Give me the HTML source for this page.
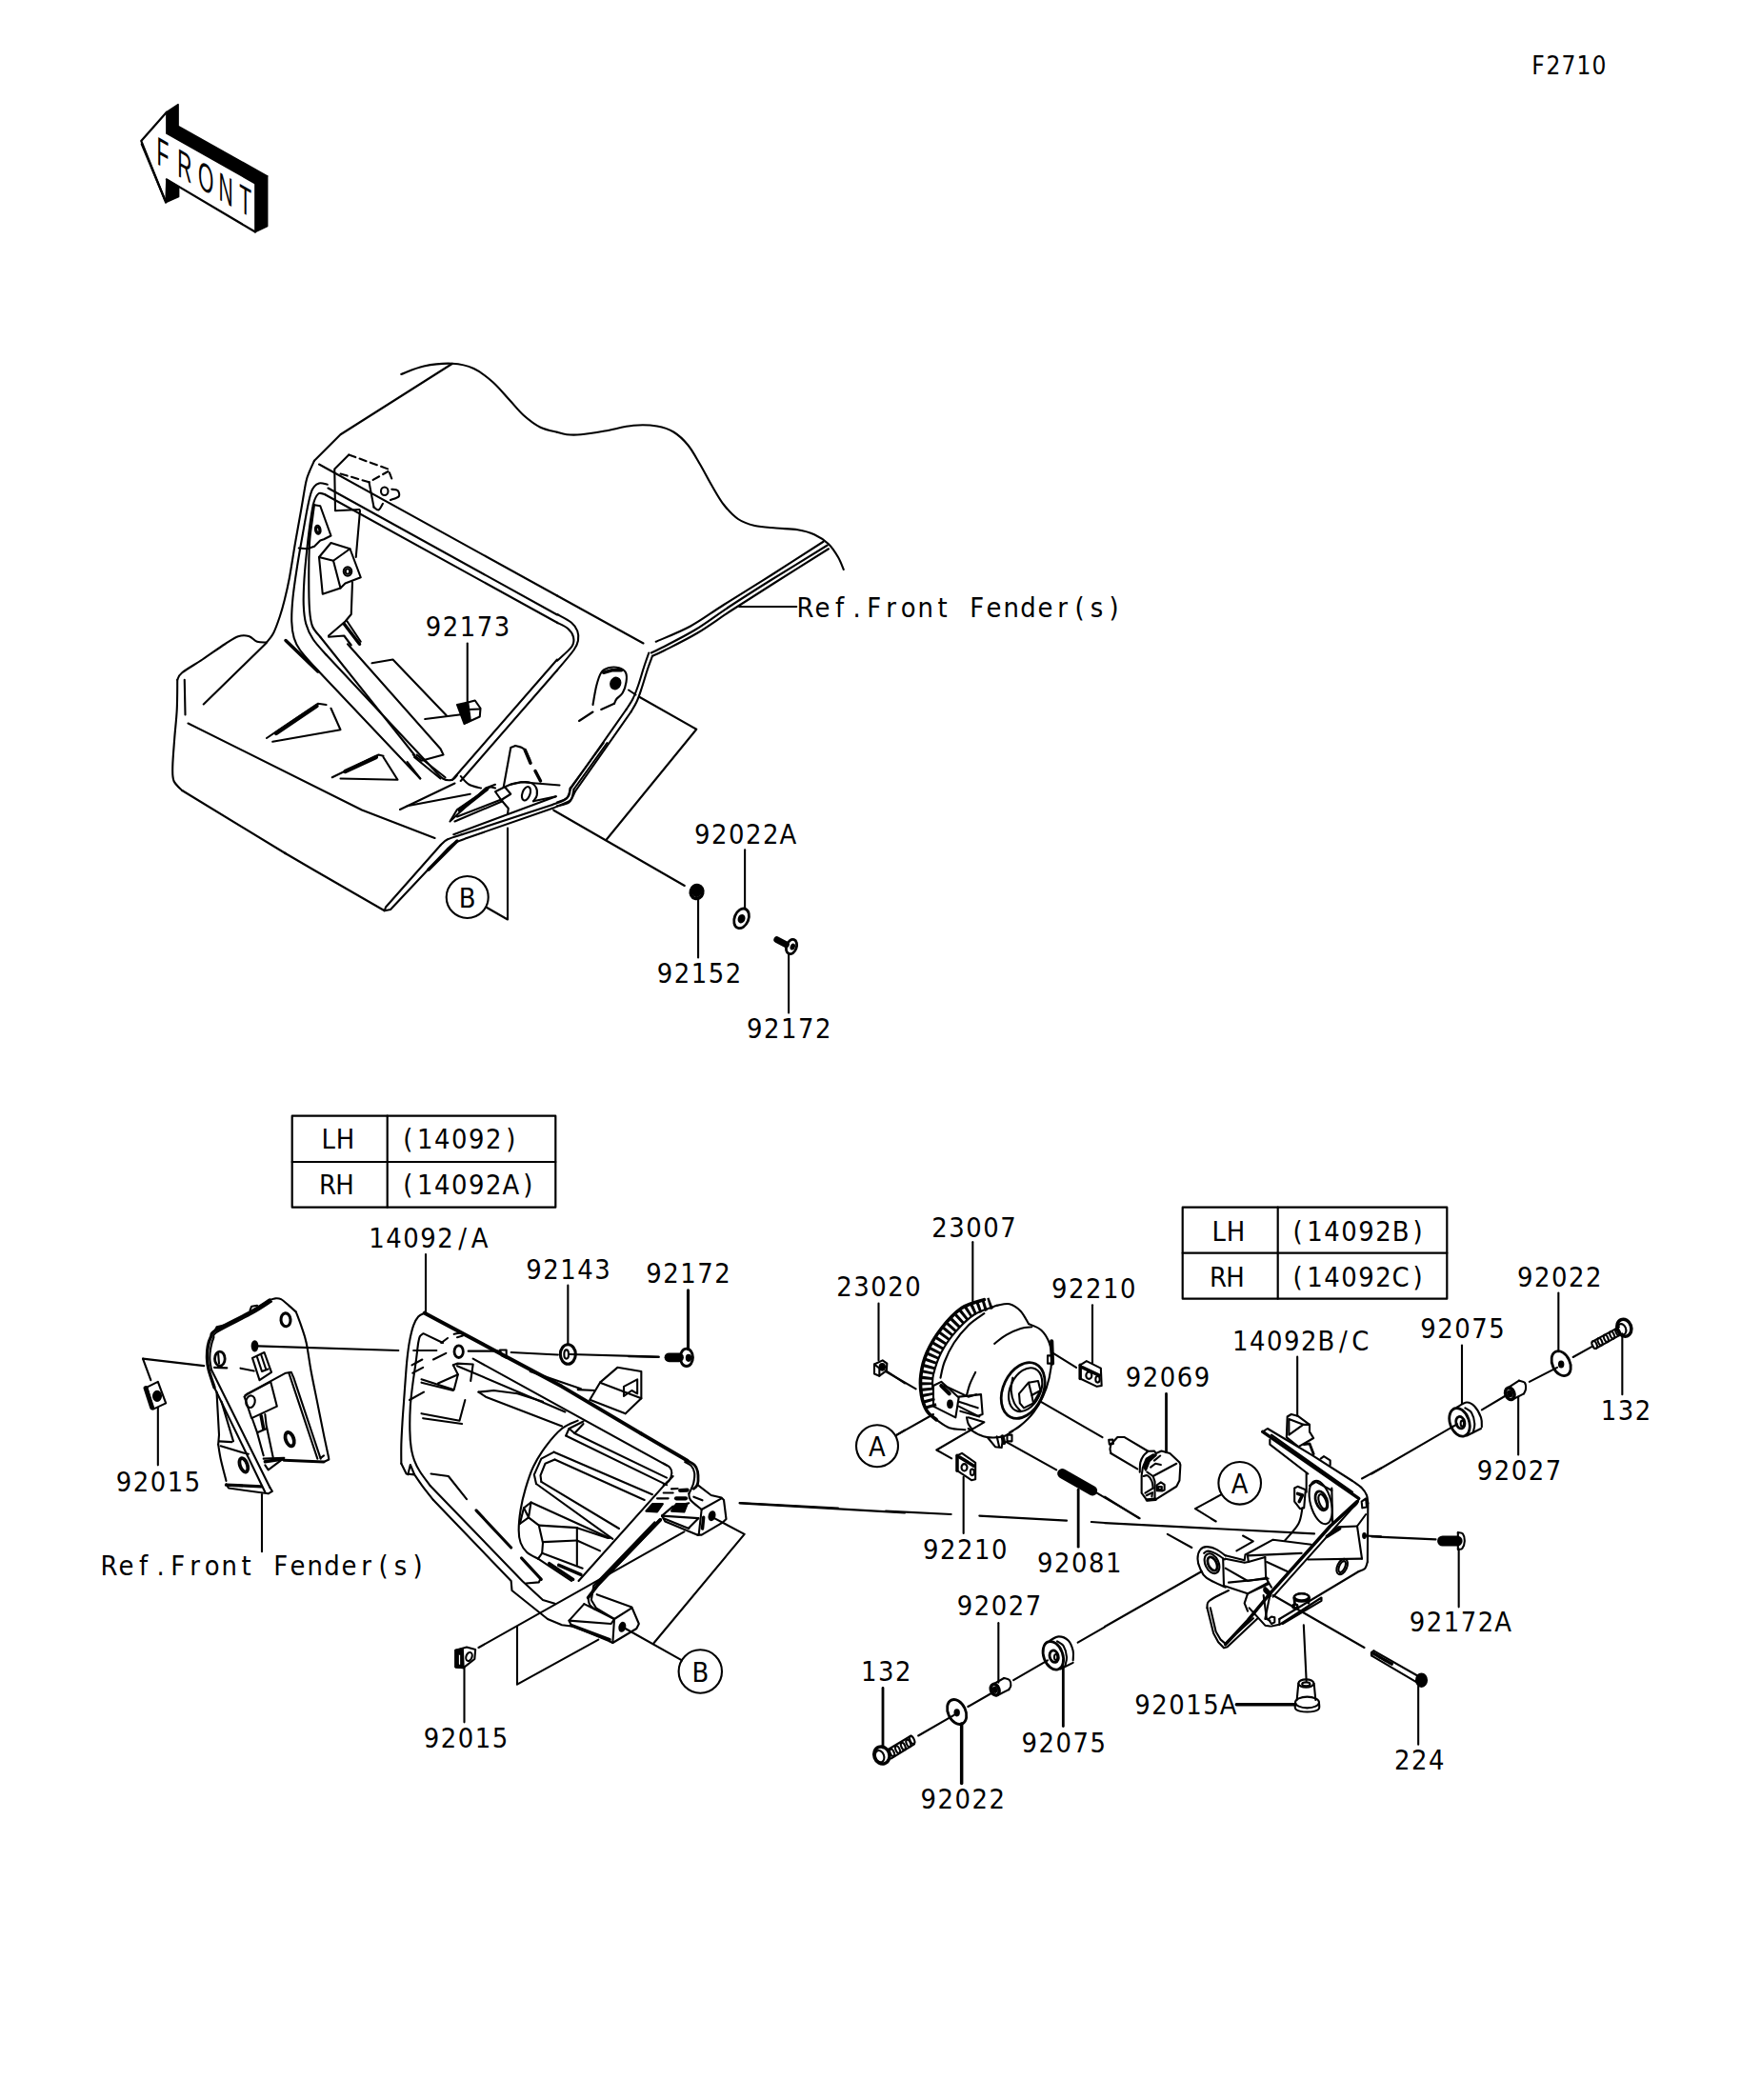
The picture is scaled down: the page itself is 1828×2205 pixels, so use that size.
<!DOCTYPE html>
<html><head><meta charset="utf-8"><title>F2710</title>
<style>
html,body{margin:0;padding:0;background:#fff}
svg{display:block}
.t{font-family:"DejaVu Sans Condensed","Liberation Sans",sans-serif;fill:#000;text-anchor:middle}
.g polyline,.g path,.g ellipse,.g polygon,.g line,.g rect,.g circle{fill:none;stroke:#000;stroke-linecap:round;stroke-linejoin:round}
.g .f{fill:#000}
.g .w{fill:#fff}
</style></head><body>
<svg width="1828" height="2205" viewBox="0 0 1828 2205">
<rect width="1828" height="2205" fill="#fff"/>
<g class="g">
<g transform="translate(100,60) scale(0.172325)"><polygon class="f" points="435,335 505,288 505,420 1048,725 975,770 435,465" stroke-width="9.75"/><polygon class="f" points="975,770 1048,725 1048,1030 975,1065" stroke-width="9.75"/><polygon class="f" points="435,745 508,790 508,850 430,885" stroke-width="9.75"/><polyline points="435,335 280,510 430,885" stroke-width="13.00"/><polyline points="283,530 425,870" stroke-width="13.00"/><polyline points="435,745 975,1065" stroke-width="13.00"/></g>
<g transform="translate(150,370) scale(0.250000)"><path d="M1085.0 92.0 C1100.8 86.3 1144.2 65.5 1180.0 58.0 C1215.8 50.5 1265.0 45.3 1300.0 47.0 C1335.0 48.7 1361.7 55.0 1390.0 68.0 C1418.3 81.0 1445.0 103.0 1470.0 125.0 C1495.0 147.0 1518.3 176.7 1540.0 200.0 C1561.7 223.3 1578.3 245.8 1600.0 265.0 C1621.7 284.2 1646.7 303.3 1670.0 315.0 C1693.3 326.7 1728.3 331.7 1740.0 335.0" stroke-width="8.40"/><polyline points="1300,47 830,345 720,455" stroke-width="8.40"/><path d="M720.0 455.0 C716.7 462.5 705.8 485.0 700.0 500.0 C694.2 515.0 690.8 518.3 685.0 545.0 C679.2 571.7 672.5 617.5 665.0 660.0 C657.5 702.5 648.3 751.7 640.0 800.0 C631.7 848.3 622.5 910.0 615.0 950.0 C607.5 990.0 601.7 1013.3 595.0 1040.0 C588.3 1066.7 582.8 1086.7 575.0 1110.0 C567.2 1133.3 557.2 1162.0 548.0 1180.0 C538.8 1198.0 524.7 1211.7 520.0 1218.0" stroke-width="8.40"/><path d="M520.0 1218.0 C513.3 1217.5 492.5 1219.3 480.0 1215.0 C467.5 1210.7 458.3 1195.7 445.0 1192.0 C431.7 1188.3 416.7 1187.5 400.0 1193.0 C383.3 1198.5 370.0 1208.8 345.0 1225.0 C320.0 1241.2 280.0 1270.0 250.0 1290.0 C220.0 1310.0 182.5 1330.8 165.0 1345.0 C147.5 1359.2 148.3 1370.0 145.0 1375.0" stroke-width="8.40"/><path d="M145.0 1375.0 C144.7 1395.8 145.0 1459.2 143.0 1500.0 C141.0 1540.8 136.0 1580.0 133.0 1620.0 C130.0 1660.0 125.5 1710.0 125.0 1740.0 C124.5 1770.0 123.3 1783.3 130.0 1800.0 C136.7 1816.7 159.2 1833.3 165.0 1840.0" stroke-width="8.40"/><polyline points="165,1840 600,2105" stroke-width="8.40"/><polyline points="175,1375 178,1522" stroke-width="8.40"/><polyline points="255,1478 517,1222" stroke-width="8.40"/><polyline points="190,1558 920,1922 1226,2040" stroke-width="8.40"/><polyline points="740,470 1740,1022" stroke-width="8.40"/><polyline points="778,570 1740,1102" stroke-width="8.40"/><polyline points="765,597 1740,1135" stroke-width="8.40"/><path d="M775.0 555.0 C769.2 554.2 750.5 546.7 740.0 550.0 C729.5 553.3 719.5 560.8 712.0 575.0 C704.5 589.2 701.7 604.2 695.0 635.0 C688.3 665.8 679.8 715.8 672.0 760.0 C664.2 804.2 655.0 855.0 648.0 900.0 C641.0 945.0 633.8 991.7 630.0 1030.0 C626.2 1068.3 624.2 1101.7 625.0 1130.0 C625.8 1158.3 629.2 1180.0 635.0 1200.0 C640.8 1220.0 645.8 1230.0 660.0 1250.0 C674.2 1270.0 710.0 1308.3 720.0 1320.0" stroke-width="8.40"/><polyline points="720,1320 1165,1790" stroke-width="8.40"/><path d="M765.0 597.0 C760.5 596.3 745.8 587.5 738.0 593.0 C730.2 598.5 723.5 612.2 718.0 630.0 C712.5 647.8 709.7 668.3 705.0 700.0 C700.3 731.7 694.5 778.3 690.0 820.0 C685.5 861.7 680.5 910.0 678.0 950.0 C675.5 990.0 673.8 1028.3 675.0 1060.0 C676.2 1091.7 678.3 1115.8 685.0 1140.0 C691.7 1164.2 700.8 1183.3 715.0 1205.0 C729.2 1226.7 760.8 1259.2 770.0 1270.0" stroke-width="8.40"/><polyline points="770,1270 1215,1745" stroke-width="8.40"/><path d="M1215.0 1745.0 C1222.5 1752.5 1245.8 1781.7 1260.0 1790.0 C1274.2 1798.3 1290.0 1797.5 1300.0 1795.0 C1310.0 1792.5 1316.7 1778.3 1320.0 1775.0" stroke-width="8.40"/><path d="M720.0 640.0 C718.7 650.0 715.3 673.3 712.0 700.0 C708.7 726.7 702.5 758.3 700.0 800.0 C697.5 841.7 697.0 903.3 697.0 950.0 C697.0 996.7 697.5 1046.7 700.0 1080.0 C702.5 1113.3 704.5 1130.8 712.0 1150.0 C719.5 1169.2 739.5 1187.5 745.0 1195.0" stroke-width="8.40"/><polyline points="745,1195 1140,1690" stroke-width="8.40"/><polyline points="860,1225 1250,1665 1262,1690 1170,1715 1135,1690" stroke-width="8.40"/><polyline points="1140,1700 1250,1790" stroke-width="8.40"/><polyline points="1150,1690 1270,1785" stroke-width="8.40"/><polyline points="1300,1795 1740,1290" stroke-width="8.40"/><polyline points="1335,1800 1740,1335" stroke-width="8.40"/><polyline points="865,430 805,490 808,665 910,660" stroke-width="8.40"/><polyline points="865,430 1030,490 1045,530" stroke-width="8.40" stroke-dasharray="30 18"/><polyline points="830,510 950,545 1030,500" stroke-width="8.40" stroke-dasharray="30 18"/><ellipse cx="1015" cy="583" rx="15" ry="17" transform="rotate(0 1015 583)" stroke-width="8.40"/><path d="M1045.0 575.0 C1049.2 575.8 1065.0 575.0 1070.0 580.0 C1075.0 585.0 1080.0 598.3 1075.0 605.0 C1070.0 611.7 1045.8 617.5 1040.0 620.0" stroke-width="8.40"/><polyline points="950,545 970,650" stroke-width="8.40"/><path d="M970.0 650.0 C973.3 652.0 983.7 664.5 990.0 662.0 C996.3 659.5 1005.0 639.5 1008.0 635.0" stroke-width="8.40"/><polyline points="715,640 745,645 790,770 760,785 745,790 720,815 690,825 655,822" stroke-width="8.40"/><ellipse cx="735" cy="745" rx="11" ry="18" transform="rotate(-10 735 745)" stroke-width="8.40"/><ellipse cx="735" cy="745" rx="6" ry="11" transform="rotate(-10 735 745)" stroke-width="8.40"/><polygon points="740,860 790,800 870,825 915,945 850,970 830,990 755,1015" stroke-width="8.40"/><polyline points="740,860 800,875 870,825" stroke-width="8.40"/><polyline points="800,875 830,990" stroke-width="8.40"/><ellipse cx="860" cy="920" rx="17" ry="19" transform="rotate(0 860 920)" stroke-width="8.40"/><ellipse cx="860" cy="920" rx="9" ry="11" transform="rotate(0 860 920)" stroke-width="8.40"/><polyline points="912,665 895,860" stroke-width="8.40"/><polyline points="880,965 875,1100 850,1130 780,1190" stroke-width="8.40"/><polyline points="845,1140 910,1225" stroke-width="14.00"/><polyline points="855,1125 915,1215" stroke-width="8.40"/><polyline points="780,1195 845,1190 875,1230" stroke-width="8.40"/><polyline points="1363,1222 1363,1475" stroke-width="8.40"/><polyline points="1185,1540 1345,1520" stroke-width="8.40"/><polyline points="962,1305 1050,1290 1275,1525" stroke-width="8.40"/><polygon class="f" points="1320,1480 1365,1470 1375,1545 1350,1560" stroke-width="8.40"/><polyline points="1365,1470 1395,1462 1418,1495 1415,1530 1360,1555" stroke-width="8.40"/><polyline points="1365,1500 1415,1498" stroke-width="8.40"/><polyline points="520,1620 735,1475 770,1480" stroke-width="8.40"/><polyline points="545,1635 830,1585 790,1495" stroke-width="8.40"/><polyline points="560,1600 730,1485" stroke-width="16.80"/><polyline points="795,1785 990,1690 1010,1695" stroke-width="8.40"/><polyline points="830,1790 1070,1795 1010,1700" stroke-width="8.40"/><polyline points="850,1760 980,1700" stroke-width="16.80"/><polyline points="1080,1920 1310,1810" stroke-width="8.40"/><polyline points="1110,1905 1375,1855" stroke-width="8.40"/><polyline points="1295,1965 1440,1830 1480,1815" stroke-width="8.40"/><polyline points="1320,1950 1500,1880" stroke-width="8.40"/><polyline points="600,1210 735,1340" stroke-width="14.00"/><polyline points="1110,1720 1165,1790" stroke-width="8.40"/></g>
<g transform="translate(585,370) scale(0.250000)"><path d="M0.0 335.0 C6.7 336.7 23.3 343.3 40.0 345.0 C56.7 346.7 73.3 347.5 100.0 345.0 C126.7 342.5 163.3 336.3 200.0 330.0 C236.7 323.7 283.3 310.3 320.0 307.0 C356.7 303.7 391.7 305.3 420.0 310.0 C448.3 314.7 468.3 321.7 490.0 335.0 C511.7 348.3 531.7 367.5 550.0 390.0 C568.3 412.5 583.3 441.7 600.0 470.0 C616.7 498.3 633.3 531.7 650.0 560.0 C666.7 588.3 681.7 616.7 700.0 640.0 C718.3 663.3 738.3 685.3 760.0 700.0 C781.7 714.7 803.3 721.7 830.0 728.0 C856.7 734.3 890.0 735.2 920.0 738.0 C950.0 740.8 983.3 740.5 1010.0 745.0 C1036.7 749.5 1058.3 755.0 1080.0 765.0 C1101.7 775.0 1123.3 789.2 1140.0 805.0 C1156.7 820.8 1169.5 842.2 1180.0 860.0 C1190.5 877.8 1199.2 903.3 1203.0 912.0" stroke-width="8.40"/><path d="M1118.0 795.0 C1081.7 818.3 969.7 890.8 900.0 935.0 C830.3 979.2 756.7 1024.2 700.0 1060.0 C643.3 1095.8 607.5 1124.2 560.0 1150.0 C512.5 1175.8 439.2 1204.2 415.0 1215.0" stroke-width="8.40"/><path d="M1135.0 810.0 C1095.8 834.2 969.2 911.7 900.0 955.0 C830.8 998.3 773.3 1035.0 720.0 1070.0 C666.7 1105.0 626.7 1136.7 580.0 1165.0 C533.3 1193.3 470.8 1223.8 440.0 1240.0 C409.2 1256.2 402.5 1258.3 395.0 1262.0" stroke-width="8.40"/><path d="M1140.0 825.0 C1101.7 849.2 978.3 926.7 910.0 970.0 C841.7 1013.3 783.3 1050.3 730.0 1085.0 C676.7 1119.7 636.7 1150.2 590.0 1178.0 C543.3 1205.8 481.7 1235.8 450.0 1252.0 C418.3 1268.2 408.3 1271.2 400.0 1275.0" stroke-width="8.40"/><path d="M385.0 1262.0 C381.7 1271.7 372.5 1297.0 365.0 1320.0 C357.5 1343.0 347.8 1377.5 340.0 1400.0 C332.2 1422.5 326.3 1438.3 318.0 1455.0 C309.7 1471.7 294.7 1492.5 290.0 1500.0" stroke-width="8.40"/><polyline points="290,1500 55,1835" stroke-width="8.40"/><path d="M55.0 1835.0 C52.5 1841.2 49.2 1862.8 40.0 1872.0 C30.8 1881.2 6.7 1887.0 0.0 1890.0" stroke-width="8.40"/><path d="M400.0 1275.0 C396.7 1284.2 387.5 1307.5 380.0 1330.0 C372.5 1352.5 362.5 1387.5 355.0 1410.0 C347.5 1432.5 342.5 1448.3 335.0 1465.0 C327.5 1481.7 314.2 1502.5 310.0 1510.0" stroke-width="8.40"/><polyline points="310,1510 75,1845" stroke-width="8.40"/><path d="M75.0 1845.0 C70.8 1852.5 62.5 1880.0 50.0 1890.0 C37.5 1900.0 8.3 1902.5 0.0 1905.0" stroke-width="8.40"/><polyline points="765,1068 1005,1068" stroke-width="8.40"/><polyline points="0,1022 362,1222" stroke-width="8.40"/><path d="M0.0 1100.0 C10.0 1105.8 45.8 1123.3 60.0 1135.0 C74.2 1146.7 80.3 1157.5 85.0 1170.0 C89.7 1182.5 90.5 1196.7 88.0 1210.0 C85.5 1223.3 84.7 1229.2 70.0 1250.0 C55.3 1270.8 11.7 1320.8 0.0 1335.0" stroke-width="8.40"/><path d="M0.0 1135.0 C7.5 1139.2 33.7 1150.0 45.0 1160.0 C56.3 1170.0 65.2 1182.5 68.0 1195.0 C70.8 1207.5 73.3 1218.3 62.0 1235.0 C50.7 1251.7 10.3 1285.0 0.0 1295.0" stroke-width="8.40"/><path d="M150.0 1480.0 C152.5 1466.7 159.2 1422.5 165.0 1400.0 C170.8 1377.5 176.7 1357.5 185.0 1345.0 C193.3 1332.5 202.5 1328.3 215.0 1325.0 C227.5 1321.7 247.8 1321.7 260.0 1325.0 C272.2 1328.3 283.0 1335.0 288.0 1345.0 C293.0 1355.0 292.2 1370.8 290.0 1385.0 C287.8 1399.2 281.7 1418.3 275.0 1430.0 C268.3 1441.7 255.8 1447.5 250.0 1455.0 C244.2 1462.5 241.7 1471.7 240.0 1475.0" stroke-width="8.40"/><polyline points="240,1475 185,1500" stroke-width="8.40"/><polyline points="150,1510 92,1548" stroke-width="8.40"/><polyline points="195,1345 230,1335 270,1335" stroke-width="14.00"/><ellipse class="f" cx="245" cy="1390" rx="20" ry="24" transform="rotate(20 245 1390)" stroke-width="8.40"/><polyline points="300,1418 330,1438" stroke-width="8.40"/><polyline points="345,1447 585,1583 208,2045" stroke-width="8.40"/></g>
<g transform="translate(330,780) scale(0.250000)"><polyline points="812,358 812,742 725,692" stroke-width="8.40"/><path d="M1075.0 190.0 C1074.2 195.0 1074.2 211.7 1070.0 220.0 C1065.8 228.3 1061.7 233.3 1050.0 240.0 C1038.3 246.7 1008.3 256.7 1000.0 260.0" stroke-width="8.40"/><polyline points="1000,260 620,385" stroke-width="8.40"/><path d="M620.0 385.0 C610.0 388.3 575.0 397.5 560.0 405.0 C545.0 412.5 535.0 425.8 530.0 430.0" stroke-width="8.40"/><polyline points="530,430 300,690 295,705 0,535 -125,462" stroke-width="8.40"/><path d="M1090.0 195.0 C1088.3 201.7 1085.0 225.8 1080.0 235.0 C1075.0 244.2 1073.3 243.3 1060.0 250.0 C1046.7 256.7 1010.0 270.8 1000.0 275.0" stroke-width="8.40"/><polyline points="1000,275 640,400" stroke-width="8.40"/><path d="M640.0 400.0 C631.7 403.3 603.3 412.5 590.0 420.0 C576.7 427.5 565.0 440.8 560.0 445.0" stroke-width="8.40"/><polyline points="560,445 320,700 295,705" stroke-width="8.40"/><polyline points="585,385 1015,225" stroke-width="8.40"/><polyline points="600,412 480,532" stroke-width="14.00"/><polyline points="1075,190 1215,0" stroke-width="8.40"/><polyline points="1090,195 1230,0" stroke-width="8.40"/><polyline points="1005,283 1555,600" stroke-width="8.40"/><polyline points="795,185 825,20 845,12" stroke-width="8.40"/><path d="M845.0 12.0 C850.8 14.2 870.0 15.3 880.0 25.0 C890.0 34.7 900.8 62.5 905.0 70.0" stroke-width="8.40"/><polyline points="885,30 908,85" stroke-width="14.00"/><polyline points="928,118 950,160" stroke-width="14.00"/><polyline points="825,175 870,165 1030,178" stroke-width="8.40"/><ellipse cx="890" cy="213" rx="16" ry="30" transform="rotate(20 890 213)" stroke-width="8.40"/><path d="M800.0 185.0 C806.7 182.5 823.3 173.3 840.0 170.0 C856.7 166.7 885.0 162.5 900.0 165.0 C915.0 167.5 924.2 175.8 930.0 185.0 C935.8 194.2 936.7 210.0 935.0 220.0 C933.3 230.0 922.5 240.8 920.0 245.0" stroke-width="8.40"/><polygon points="760,205 800,185 825,215 785,240" stroke-width="8.40"/><polyline points="785,240 815,275 812,300" stroke-width="8.40"/><polyline points="570,330 600,280 740,185 760,190" stroke-width="8.40"/><polyline points="590,330 790,245" stroke-width="8.40"/><polyline points="610,285 725,195" stroke-width="14.00"/><polyline points="920,245 1015,225" stroke-width="8.40"/><path d="M615.0 140.0 C620.8 145.8 635.8 166.7 650.0 175.0 C664.2 183.3 691.7 187.5 700.0 190.0" stroke-width="8.40"/></g>
<g transform="translate(680,850) scale(0.126358)"><polyline points="808,335 808,820" stroke-width="16.62"/><ellipse cx="780" cy="905" rx="58" ry="85" transform="rotate(22 780 905)" stroke-width="22.16"/><ellipse class="f" cx="780" cy="908" rx="22" ry="30" transform="rotate(22 780 908)" stroke-width="16.62"/><polyline points="420,745 420,1230" stroke-width="16.62"/><ellipse cx="408" cy="685" rx="50" ry="56" transform="rotate(15 408 685)" stroke-width="27.70"/><ellipse class="f" cx="408" cy="680" rx="34" ry="40" transform="rotate(15 408 680)" stroke-width="16.62"/><polyline points="1172,1205 1172,1690" stroke-width="16.62"/><ellipse cx="1195" cy="1140" rx="42" ry="62" transform="rotate(20 1195 1140)" stroke-width="22.16"/><polyline points="1075,1082 1150,1122" stroke-width="55.40"/><ellipse class="f" cx="1205" cy="1140" rx="12" ry="20" transform="rotate(20 1205 1140)" stroke-width="16.62"/></g>
<g transform="translate(110,1340) scale(0.166667)"><path d="M1040.0 150.0 C1020.0 162.5 976.7 193.3 920.0 225.0 C863.3 256.7 741.7 314.2 700.0 340.0 C658.3 365.8 678.3 363.3 670.0 380.0 C661.7 396.7 654.2 416.7 650.0 440.0 C645.8 463.3 644.2 495.0 645.0 520.0 C645.8 545.0 647.5 560.0 655.0 590.0 C662.5 620.0 684.2 681.7 690.0 700.0" stroke-width="20.16"/><polyline points="690,700 1010,1360" stroke-width="12.60"/><path d="M1050.0 160.0 C1030.0 172.5 986.7 203.3 930.0 235.0 C873.3 266.7 750.8 324.2 710.0 350.0 C669.2 375.8 692.0 373.3 685.0 390.0 C678.0 406.7 671.8 428.3 668.0 450.0 C664.2 471.7 661.3 496.7 662.0 520.0 C662.7 543.3 670.3 578.3 672.0 590.0" stroke-width="12.60"/><polyline points="672,590 1040,1330" stroke-width="12.60"/><path d="M1040.0 150.0 C1045.8 148.3 1063.3 140.8 1075.0 140.0 C1086.7 139.2 1095.8 137.5 1110.0 145.0 C1124.2 152.5 1144.2 171.7 1160.0 185.0 C1175.8 198.3 1197.5 218.3 1205.0 225.0" stroke-width="12.60"/><path d="M1205.0 225.0 C1210.8 240.8 1229.2 287.5 1240.0 320.0 C1250.8 352.5 1260.0 373.3 1270.0 420.0 C1280.0 466.7 1288.3 536.7 1300.0 600.0 C1311.7 663.3 1326.7 733.3 1340.0 800.0 C1353.3 866.7 1368.3 943.3 1380.0 1000.0 C1391.7 1056.7 1405.0 1116.7 1410.0 1140.0" stroke-width="12.60"/><polyline points="1410,1140 1412,1155 1380,1170" stroke-width="12.60"/><polyline points="1380,1170 1130,1160" stroke-width="18.48"/><polyline points="1360,1145 1380,1130" stroke-width="12.60"/><polyline points="880,760 900,740 1140,610 1175,605 1190,640 1360,1150" stroke-width="12.60"/><polyline points="1160,610 1340,1150" stroke-width="12.60"/><polyline points="885,750 1045,665 1085,820 925,895 880,760" stroke-width="12.60"/><ellipse cx="918" cy="790" rx="28" ry="38" transform="rotate(10 918 790)" stroke-width="12.60"/><polyline points="930,900 960,985 1020,960 1010,870" stroke-width="12.60"/><polyline points="985,880 1000,960" stroke-width="21.00"/><polyline points="960,985 1000,1130" stroke-width="12.60"/><polyline points="1020,950 1060,1140" stroke-width="12.60"/><ellipse cx="1165" cy="1027" rx="30" ry="50" transform="rotate(-20 1165 1027)" stroke-width="12.60"/><ellipse cx="1165" cy="1027" rx="20" ry="40" transform="rotate(-20 1165 1027)" stroke-width="12.60"/><polyline points="1000,1150 1130,1145 1030,1220 1010,1190" stroke-width="12.60"/><polyline points="1010,1168 1120,1152" stroke-width="21.00"/><ellipse cx="1140" cy="275" rx="30" ry="42" transform="rotate(-5 1140 275)" stroke-width="18.48"/><ellipse class="f" cx="945" cy="440" rx="17" ry="30" transform="rotate(0 945 440)" stroke-width="12.60"/><polyline points="965,440 1850,468" stroke-width="12.60"/><ellipse cx="725" cy="520" rx="32" ry="45" transform="rotate(0 725 520)" stroke-width="16.80"/><polyline points="715,490 720,550" stroke-width="12.60"/><polyline points="690,575 770,578" stroke-width="12.60"/><polygon points="930,515 1005,480 1050,605 975,655" stroke-width="12.60"/><polyline points="960,510 990,600 1030,585" stroke-width="12.60"/><polyline points="985,495 1015,585" stroke-width="12.60"/><polyline points="855,580 940,597" stroke-width="12.60"/><polyline points="705,730 720,1000 715,1060" stroke-width="12.60"/><path d="M715.0 1060.0 C717.5 1075.0 721.7 1111.7 730.0 1150.0 C738.3 1188.3 759.2 1266.7 765.0 1290.0" stroke-width="12.60"/><polyline points="765,1310 780,1335 1030,1370 1055,1355 1040,1330" stroke-width="12.60"/><polyline points="720,1040 800,1045" stroke-width="12.60"/><polyline points="730,1070 880,1115 905,1120" stroke-width="12.60"/><polyline points="735,790 810,1040" stroke-width="12.60"/><ellipse cx="875" cy="1190" rx="28" ry="50" transform="rotate(-20 875 1190)" stroke-width="12.60"/><ellipse cx="875" cy="1190" rx="18" ry="40" transform="rotate(-20 875 1190)" stroke-width="12.60"/><polyline points="765,1315 985,1325" stroke-width="20.16"/><polyline points="335,830 335,1190" stroke-width="12.60"/><polyline points="990,1375 990,1735" stroke-width="12.60"/><polyline points="240,520 625,565" stroke-width="12.60"/><polyline points="240,520 290,655" stroke-width="12.60"/><polygon points="265,700 335,665 385,800 305,838" stroke-width="12.60"/><ellipse class="f" cx="330" cy="755" rx="24" ry="30" transform="rotate(0 330 755)" stroke-width="12.60"/><polyline points="258,705 298,828" stroke-width="29.40"/><polyline points="915,215 925,190 960,185" stroke-width="12.60"/><polyline points="693,345 705,320 745,310" stroke-width="12.60"/></g>
<g transform="translate(410,1360) scale(0.166667)"><polyline points="222,-258 222,110" stroke-width="12.60"/><polyline points="1118,-62 1118,310" stroke-width="12.60"/><ellipse cx="1118" cy="372" rx="48" ry="62" transform="rotate(0 1118 372)" stroke-width="18.48"/><ellipse cx="1108" cy="372" rx="14" ry="28" transform="rotate(0 1108 372)" stroke-width="12.60"/><polyline points="1130,372 1690,388" stroke-width="12.60"/><polyline points="760,360 1055,375" stroke-width="12.60"/><path d="M215.0 112.0 C208.3 115.8 186.7 122.0 175.0 135.0 C163.3 148.0 154.2 164.2 145.0 190.0 C135.8 215.8 126.7 255.0 120.0 290.0 C113.3 325.0 109.2 361.7 105.0 400.0 C100.8 438.3 98.3 476.7 95.0 520.0 C91.7 563.3 88.3 613.3 85.0 660.0 C81.7 706.7 77.8 753.3 75.0 800.0 C72.2 846.7 69.2 896.7 68.0 940.0 C66.8 983.3 68.0 1040.0 68.0 1060.0" stroke-width="12.60"/><polyline points="68,1060 100,1125 150,1130" stroke-width="12.60"/><polyline points="110,1130 125,1068 150,1128" stroke-width="12.60"/><path d="M150.0 1128.0 C158.3 1140.0 180.0 1173.0 200.0 1200.0 C220.0 1227.0 258.3 1275.0 270.0 1290.0" stroke-width="12.60"/><polyline points="270,1290 760,1800 765,1860 990,2040 1080,2077 1140,2085" stroke-width="12.60"/><path d="M205.0 242.0 C201.7 245.0 190.0 250.3 185.0 260.0 C180.0 269.7 179.2 273.3 175.0 300.0 C170.8 326.7 165.8 376.7 160.0 420.0 C154.2 463.3 145.8 513.3 140.0 560.0 C134.2 606.7 128.0 651.7 125.0 700.0 C122.0 748.3 121.2 806.7 122.0 850.0 C122.8 893.3 125.3 928.3 130.0 960.0 C134.7 991.7 140.8 1015.0 150.0 1040.0 C159.2 1065.0 168.3 1083.3 185.0 1110.0 C201.7 1136.7 239.2 1185.0 250.0 1200.0" stroke-width="12.60"/><polyline points="250,1200 830,1800 960,1920 1035,1942" stroke-width="12.60"/><polyline points="945,1785 935,1808 855,1815" stroke-width="12.60"/><polyline points="215,112 1080,575 1580,872" stroke-width="23.52"/><polyline points="520,400 1740,1072" stroke-width="12.60"/><polyline points="490,352 690,352" stroke-width="12.60"/><polygon points="690,345 730,345 730,395 700,380" stroke-width="12.60"/><polyline points="210,242 330,300" stroke-width="12.60"/><polyline points="145,348 290,348" stroke-width="12.60"/><polyline points="270,405 350,365" stroke-width="12.60"/><polyline points="320,300 360,270" stroke-width="12.60"/><polyline points="400,245 450,235" stroke-width="12.60"/><polyline points="420,265 455,255" stroke-width="12.60"/><polyline points="135,440 200,405" stroke-width="12.60"/><polyline points="140,490 205,455" stroke-width="12.60"/><polyline points="120,660 210,610" stroke-width="12.60"/><ellipse cx="430" cy="355" rx="28" ry="38" transform="rotate(0 430 355)" stroke-width="16.80"/><polyline points="395,440 420,430 520,435 505,540" stroke-width="12.60"/><polyline points="395,440 425,500 300,555" stroke-width="12.60"/><polyline points="425,500 400,595 195,530" stroke-width="12.60"/><polyline points="195,550 395,600" stroke-width="12.60"/><polyline points="470,660 435,790 195,745" stroke-width="12.60"/><polyline points="205,775 450,810" stroke-width="12.60"/><polyline points="420,445 1100,735" stroke-width="12.60"/><polyline points="555,610 650,600 800,620 960,670" stroke-width="12.60"/><polyline points="555,610 600,640 1080,825" stroke-width="12.60"/><polyline points="255,1125 365,1140 480,1285" stroke-width="12.60"/><polyline points="540,1355 760,1590" stroke-width="18.48"/><polyline points="825,1655 950,1790" stroke-width="18.48"/><polyline points="1255,660 1320,550 1430,455 1580,480 1580,650 1480,745" stroke-width="12.60"/><polyline points="1290,600 1180,595" stroke-width="12.60"/><polyline points="1260,660 1480,745" stroke-width="12.60"/><polyline points="1320,550 1580,650" stroke-width="12.60"/><polygon points="1470,575 1555,530 1555,620 1520,600 1470,635" stroke-width="12.60"/><polyline points="880,480 1200,590" stroke-width="12.60"/><path d="M1180.0 790.0 C1163.3 798.3 1113.3 813.3 1080.0 840.0 C1046.7 866.7 1010.0 910.0 980.0 950.0 C950.0 990.0 921.7 1035.0 900.0 1080.0 C878.3 1125.0 863.3 1175.0 850.0 1220.0 C836.7 1265.0 827.0 1306.7 820.0 1350.0 C813.0 1393.3 808.0 1445.0 808.0 1480.0 C808.0 1515.0 811.3 1536.7 820.0 1560.0 C828.7 1583.3 841.7 1603.3 860.0 1620.0 C878.3 1636.7 918.3 1653.3 930.0 1660.0" stroke-width="12.60"/><polyline points="1105,885 1125,840 1215,795" stroke-width="12.60"/><polyline points="1105,885 1740,1195" stroke-width="12.60"/><polyline points="1160,870 1740,1150" stroke-width="12.60"/><polyline points="1125,840 1160,870 1215,810" stroke-width="12.60"/><polyline points="1030,988 1650,1255" stroke-width="12.60"/><polyline points="1035,1035 1600,1290" stroke-width="12.60"/><polyline points="1030,988 950,1030 905,1130 918,1188" stroke-width="12.60"/><polyline points="1035,1035 975,1060 945,1135 950,1175" stroke-width="12.60"/><polyline points="918,1188 1400,1535" stroke-width="12.60"/><polyline points="950,1175 1440,1470" stroke-width="12.60"/><polyline points="885,1305 840,1340 815,1440" stroke-width="12.60"/><polyline points="885,1305 1380,1530" stroke-width="12.60"/><polyline points="840,1340 870,1400 885,1305" stroke-width="12.60"/><polyline points="815,1440 870,1400 935,1450 960,1560 955,1625 930,1660" stroke-width="12.60"/><polyline points="935,1450 1175,1465 1175,1700" stroke-width="12.60"/><polyline points="960,1555 1175,1545" stroke-width="12.60"/><polyline points="1175,1465 1370,1530" stroke-width="12.60"/><polyline points="1175,1545 1320,1610" stroke-width="12.60"/><polyline points="955,1625 1210,1720" stroke-width="12.60"/><polyline points="930,1660 1140,1800" stroke-width="12.60"/><polyline points="1000,1690 1150,1790" stroke-width="21.00"/><polyline points="1060,1700 1200,1760" stroke-width="21.00"/><polyline points="1740,1180 1185,1800" stroke-width="12.60"/><polyline points="1700,1415 1310,1820" stroke-width="21.00"/></g>
<g transform="translate(590,1440) scale(0.166667)"><polyline points="500,392 790,562" stroke-width="23.52"/><path d="M790.0 562.0 C797.5 566.7 824.2 578.7 835.0 590.0 C845.8 601.3 851.2 613.3 855.0 630.0 C858.8 646.7 858.8 675.0 858.0 690.0 C857.2 705.0 854.7 711.7 850.0 720.0 C845.3 728.3 833.3 736.7 830.0 740.0" stroke-width="16.80"/><path d="M775.0 570.0 C781.7 574.2 805.0 583.3 815.0 595.0 C825.0 606.7 832.5 622.5 835.0 640.0 C837.5 657.5 833.3 683.3 830.0 700.0 C826.7 716.7 820.0 728.3 815.0 740.0 C810.0 751.7 802.5 765.0 800.0 770.0" stroke-width="12.60"/><path d="M640.0 580.0 C646.7 584.2 671.3 595.0 680.0 605.0 C688.7 615.0 692.8 625.8 692.0 640.0 C691.2 654.2 683.7 677.5 675.0 690.0 C666.3 702.5 645.8 710.8 640.0 715.0" stroke-width="12.60"/><polyline points="660,700 700,660" stroke-width="12.60"/><polygon class="f" points="530,880 570,835 635,835 600,885" stroke-width="12.60"/><polygon class="f" points="690,880 720,835 790,835 770,885" stroke-width="12.60"/><polyline points="600,800 670,800" stroke-width="12.60"/><polyline points="640,765 700,765" stroke-width="12.60"/><polyline points="690,740 730,738" stroke-width="12.60"/><polyline points="720,800 780,800" stroke-width="25.20"/><polyline points="745,750 790,748" stroke-width="25.20"/><polyline points="855,715 940,780 1005,795 1020,810 1035,930 1015,950 880,1030 855,1030" stroke-width="12.60"/><polyline points="880,870 1005,800" stroke-width="12.60"/><polyline points="880,870 862,1030" stroke-width="12.60"/><path d="M800.0 770.0 C801.7 776.7 796.7 793.3 810.0 810.0 C823.3 826.7 868.3 860.0 880.0 870.0" stroke-width="12.60"/><polyline points="830,790 885,812" stroke-width="12.60"/><ellipse class="f" cx="945" cy="910" rx="17" ry="27" transform="rotate(15 945 910)" stroke-width="12.60"/><polyline points="630,910 700,850 800,830" stroke-width="12.60"/><polyline points="630,910 860,925" stroke-width="12.60"/><polyline points="630,910 650,945 855,1030" stroke-width="12.60"/><polyline points="860,925 800,985" stroke-width="12.60"/><polyline points="640,925 800,990" stroke-width="12.60"/><polyline points="892,920 885,990" stroke-width="21.00"/><polyline points="1120,828 1740,862" stroke-width="12.60"/><polyline points="960,925 1150,1025 580,1710" stroke-width="12.60"/><polyline points="770,1010 -525,1740" stroke-width="12.60"/><polyline points="620,935 230,1340 165,1425" stroke-width="21.00"/><polyline points="585,950 200,1350" stroke-width="12.60"/><path d="M165.0 1425.0 C166.7 1432.5 167.5 1457.5 175.0 1470.0 C182.5 1482.5 204.2 1495.0 210.0 1500.0" stroke-width="12.60"/><polyline points="200,1350 185,1440 215,1490 330,1560" stroke-width="12.60"/><polyline points="220,1405 440,1485 485,1590 470,1620 320,1710 300,1700" stroke-width="12.60"/><polyline points="140,1465 45,1570 60,1600 300,1700" stroke-width="12.60"/><polyline points="330,1560 440,1490" stroke-width="12.60"/><polyline points="330,1560 320,1710" stroke-width="12.60"/><ellipse class="f" cx="380" cy="1610" rx="17" ry="27" transform="rotate(15 380 1610)" stroke-width="12.60"/><polyline points="45,1570 310,1590 330,1560" stroke-width="12.60"/><polyline points="140,1465 330,1560" stroke-width="12.60"/><polyline points="60,1600 300,1690" stroke-width="21.00"/><polyline points="400,1620 756,1820" stroke-width="12.60"/><polyline points="230,1690 -282,1972 -282,1610" stroke-width="12.60"/><polyline points="-615,1860 -615,2210" stroke-width="12.60"/><polygon points="-670,1757 -600,1737 -545,1752 -550,1812 -620,1867 -670,1862" stroke-width="12.60"/><polygon class="f" points="-670,1757 -625,1747 -620,1867 -670,1862" stroke-width="12.60"/><polygon class="w" points="-655,1782 -635,1777 -635,1852 -655,1854" stroke-width="12.60"/><ellipse cx="-585" cy="1797" rx="18" ry="28" transform="rotate(20 -585 1797)" stroke-width="12.60"/></g>
<g transform="translate(660,1330) scale(0.166667)"><polyline points="375,148 375,520" stroke-width="18.48"/><ellipse cx="365" cy="572" rx="40" ry="55" transform="rotate(0 365 572)" stroke-width="16.80"/><polyline points="255,572 318,572" stroke-width="58.80"/><ellipse class="f" cx="378" cy="575" rx="13" ry="18" transform="rotate(0 378 575)" stroke-width="12.60"/><polyline points="0,565 190,570" stroke-width="12.60"/><polyline points="1575,232 1575,590" stroke-width="12.60"/><polygon points="1548,615 1600,590 1628,610 1625,655 1580,688 1548,675" stroke-width="12.60"/><polyline points="1548,615 1580,640 1580,688" stroke-width="12.60"/><ellipse class="f" cx="1598" cy="632" rx="16" ry="20" transform="rotate(0 1598 632)" stroke-width="12.60"/><polyline points="1620,655 1740,735" stroke-width="12.60"/><polyline points="1690,1060 1740,1030" stroke-width="12.60"/><polyline points="700,1490 1740,1550" stroke-width="12.60"/></g>
<g transform="translate(930,1340) scale(0.166667)"><polyline points="548,-215 548,160" stroke-width="12.60"/><path d="M620.0 148.0 C596.7 156.7 525.0 169.7 480.0 200.0 C435.0 230.3 386.7 283.3 350.0 330.0 C313.3 376.7 281.3 431.7 260.0 480.0 C238.7 528.3 227.8 575.0 222.0 620.0 C216.2 665.0 218.7 711.7 225.0 750.0 C231.3 788.3 244.2 824.2 260.0 850.0 C275.8 875.8 310.0 895.8 320.0 905.0" stroke-width="21.84"/><path d="M700.0 185.0 C676.7 194.2 603.3 212.5 560.0 240.0 C516.7 267.5 475.0 310.0 440.0 350.0 C405.0 390.0 373.3 435.0 350.0 480.0 C326.7 525.0 309.2 583.3 300.0 620.0 C290.8 656.7 295.8 686.7 295.0 700.0" stroke-width="12.60"/><path d="M620.0 235.0 C603.3 247.5 551.7 279.2 520.0 310.0 C488.3 340.8 455.0 381.7 430.0 420.0 C405.0 458.3 384.2 503.3 370.0 540.0 C355.8 576.7 349.2 623.3 345.0 640.0" stroke-width="12.60"/><path d="M700.0 185.0 C713.3 183.3 755.0 169.2 780.0 175.0 C805.0 180.8 830.0 199.2 850.0 220.0 C870.0 240.8 891.7 286.7 900.0 300.0" stroke-width="12.60"/><path d="M900.0 300.0 C913.3 306.7 958.3 320.0 980.0 340.0 C1001.7 360.0 1019.2 390.0 1030.0 420.0 C1040.8 450.0 1045.0 483.3 1045.0 520.0 C1045.0 556.7 1039.2 600.0 1030.0 640.0 C1020.8 680.0 1006.7 723.3 990.0 760.0 C973.3 796.7 953.3 830.0 930.0 860.0 C906.7 890.0 875.0 919.2 850.0 940.0 C825.0 960.8 791.7 977.5 780.0 985.0" stroke-width="12.60"/><path d="M320.0 905.0 C333.3 913.3 370.0 944.5 400.0 955.0 C430.0 965.5 483.3 965.8 500.0 968.0" stroke-width="12.60"/><path d="M520.0 960.0 C530.0 965.8 560.0 985.8 580.0 995.0 C600.0 1004.2 613.3 1012.5 640.0 1015.0 C666.7 1017.5 713.3 1016.7 740.0 1010.0 C766.7 1003.3 790.0 980.8 800.0 975.0" stroke-width="12.60"/><path d="M685.0 425.0 C697.5 415.8 732.5 385.8 760.0 370.0 C787.5 354.2 823.3 338.3 850.0 330.0 C876.7 321.7 908.3 321.7 920.0 320.0" stroke-width="12.60"/><path d="M565.0 605.0 C559.2 617.5 539.2 655.8 530.0 680.0 C520.8 704.2 513.3 738.3 510.0 750.0" stroke-width="12.60"/><ellipse cx="865" cy="720" rx="125" ry="185" transform="rotate(25 865 720)" stroke-width="16.80"/><ellipse cx="880" cy="715" rx="95" ry="145" transform="rotate(25 880 715)" stroke-width="12.60"/><path d="M800.0 640.0 C798.3 653.3 788.3 693.3 790.0 720.0 C791.7 746.7 800.0 778.3 810.0 800.0 C820.0 821.7 843.3 841.7 850.0 850.0" stroke-width="12.60"/><polygon points="840,740 900,670 960,660 975,720 930,800 870,830 845,800" stroke-width="12.60"/><polyline points="900,670 920,750 975,720" stroke-width="12.60"/><polyline points="920,750 930,800" stroke-width="12.60"/><polygon points="300,690 350,665 460,765 440,890 300,820" stroke-width="12.60"/><ellipse class="f" cx="405" cy="805" rx="14" ry="22" transform="rotate(0 405 805)" stroke-width="12.60"/><polyline points="350,690 400,740" stroke-width="25.20"/><polyline points="460,760 600,745 610,870 580,880 460,820" stroke-width="12.60"/><polyline points="370,690 520,760 570,745" stroke-width="12.60"/><polyline points="470,850 590,885" stroke-width="12.60"/><polyline points="460,790 580,830" stroke-width="12.60"/><polyline points="645,1020 690,1075 730,1080 740,1010" stroke-width="12.60"/><polyline points="700,1010 715,1075" stroke-width="12.60"/><polyline points="735,1010 745,1050" stroke-width="25.20"/><polygon points="765,1000 795,1000 795,1040 765,1040" stroke-width="12.60"/><polyline points="520,890 620,920 320,1095 415,1148" stroke-width="12.60"/><path d="M510.0 890.0 C511.7 896.7 514.2 917.5 520.0 930.0 C525.8 942.5 540.8 959.2 545.0 965.0" stroke-width="12.60"/><polyline points="1045,410 1050,550" stroke-width="25.20"/><polygon points="1020,500 1045,500 1045,550 1020,550" stroke-width="12.60"/><polyline points="1055,485 1200,575" stroke-width="12.60"/><polyline points="1302,182 1302,550" stroke-width="12.60"/><polygon points="1225,560 1265,535 1355,580 1360,690 1330,695 1225,645" stroke-width="12.60"/><ellipse cx="1280" cy="625" rx="18" ry="22" transform="rotate(0 1280 625)" stroke-width="12.60"/><ellipse cx="1335" cy="650" rx="13" ry="20" transform="rotate(0 1335 650)" stroke-width="12.60"/><polyline points="1225,560 1225,645" stroke-width="21.00"/><polyline points="1240,575 1345,625" stroke-width="21.00"/><polygon points="450,1130 480,1115 565,1175 565,1280 540,1285 450,1225" stroke-width="12.60"/><ellipse cx="495" cy="1205" rx="18" ry="22" transform="rotate(0 495 1205)" stroke-width="12.60"/><ellipse cx="545" cy="1235" rx="12" ry="20" transform="rotate(0 545 1235)" stroke-width="12.60"/><polyline points="450,1130 450,1225" stroke-width="21.00"/><polyline points="465,1140 555,1195" stroke-width="21.00"/><polyline points="490,1265 490,1620" stroke-width="12.60"/><polyline points="70,1000 300,870" stroke-width="12.60"/><polyline points="0,600 190,710" stroke-width="12.60"/><polyline points="975,790 1365,1015" stroke-width="12.60"/><polyline points="760,1045 1075,1220" stroke-width="12.60"/><polyline points="1320,1360 1600,1525" stroke-width="12.60"/><polyline points="1112,1243 1302,1352" stroke-width="62.16"/><polyline points="1213,1345 1213,1705" stroke-width="16.80"/><polyline points="0,1480 412,1500" stroke-width="12.60"/><polyline points="590,1510 1140,1540" stroke-width="12.60"/><polyline points="1295,1548 1380,1554" stroke-width="12.60"/></g>
<g transform="translate(1160,1400) scale(0.166667)"><polyline points="735,1015 570,1105 700,1185" stroke-width="12.60"/><polyline points="0,1030 215,1165" stroke-width="12.60"/><polyline points="0,1195 1320,1262" stroke-width="12.60"/><polyline points="395,1265 548,1350" stroke-width="12.60"/><polyline points="870,1275 935,1310 830,1370" stroke-width="12.60"/><polyline points="1213,148 1213,520" stroke-width="12.60"/><polyline points="1620,915 1740,850" stroke-width="12.60"/><polyline points="1640,1275 1740,1280" stroke-width="12.60"/><polyline points="0,1848 610,1500" stroke-width="12.60"/><polygon points="1150,525 1175,510 1215,520 1290,575 1290,620 1315,660 1220,715 1145,655" stroke-width="12.60"/><polygon points="1160,540 1250,575 1160,640" stroke-width="12.60"/><polyline points="1250,575 1290,575" stroke-width="12.60"/><polyline points="1255,700 1290,695 1315,760" stroke-width="16.80"/><polyline points="995,620 1025,600 1310,770 1560,930" stroke-width="12.60"/><path d="M1560.0 930.0 C1570.0 937.5 1605.0 960.0 1620.0 975.0 C1635.0 990.0 1643.7 1004.2 1650.0 1020.0 C1656.3 1035.8 1656.7 1061.7 1658.0 1070.0" stroke-width="12.60"/><polyline points="995,620 1600,1040" stroke-width="21.00"/><polyline points="1040,670 1040,700 1280,885" stroke-width="12.60"/><polyline points="1050,640 1560,1000" stroke-width="12.60"/><path d="M1600.0 1040.0 C1598.3 1045.0 1596.7 1060.0 1590.0 1070.0 C1583.3 1080.0 1565.0 1095.0 1560.0 1100.0" stroke-width="12.60"/><polyline points="1360,790 1380,775 1420,800 1420,830" stroke-width="12.60"/><polyline points="1658,1070 1655,1440" stroke-width="12.60"/><path d="M1655.0 1440.0 C1652.5 1446.7 1649.2 1470.0 1640.0 1480.0 C1630.8 1490.0 1606.7 1496.7 1600.0 1500.0" stroke-width="12.60"/><polyline points="1600,1500 1100,1800" stroke-width="12.60"/><polygon points="1618,1060 1645,1040 1650,1095 1622,1100" stroke-width="12.60"/><polyline points="1645,1140 1590,1215 1620,1420" stroke-width="12.60"/><polyline points="1590,1215 1470,1220 1400,1275" stroke-width="12.60"/><polyline points="1620,1420 1280,1425" stroke-width="12.60"/><ellipse class="f" cx="1635" cy="1275" rx="8" ry="14" transform="rotate(0 1635 1275)" stroke-width="12.60"/><polyline points="1590,1060 1420,1215 1040,1640" stroke-width="21.00"/><polyline points="1560,1100 1400,1280 1060,1660" stroke-width="12.60"/><polyline points="1400,1280 1480,1230" stroke-width="21.00"/><ellipse cx="1360" cy="1065" rx="65" ry="140" transform="rotate(-15 1360 1065)" stroke-width="12.60"/><ellipse cx="1365" cy="1055" rx="35" ry="62" transform="rotate(-20 1365 1055)" stroke-width="16.80"/><ellipse cx="1372" cy="1060" rx="22" ry="48" transform="rotate(-20 1372 1060)" stroke-width="12.60"/><polyline points="1430,975 1435,1200" stroke-width="12.60"/><polyline points="1290,960 1330,935 1430,990" stroke-width="12.60"/><polyline points="1270,880 1270,1000" stroke-width="12.60"/><polygon points="1195,975 1215,965 1265,985 1255,1100 1230,1105 1195,1060" stroke-width="12.60"/><polyline points="1215,1010 1245,1020 1225,1060" stroke-width="21.00"/><path d="M1245.0 1100.0 C1240.8 1116.7 1238.3 1165.8 1220.0 1200.0 C1201.7 1234.2 1149.2 1287.5 1135.0 1305.0" stroke-width="12.60"/><path d="M760.0 1400.0 C750.0 1393.3 720.0 1369.2 700.0 1360.0 C680.0 1350.8 656.7 1344.2 640.0 1345.0 C623.3 1345.8 609.2 1352.5 600.0 1365.0 C590.8 1377.5 585.0 1400.8 585.0 1420.0 C585.0 1439.2 590.8 1460.0 600.0 1480.0 C609.2 1500.0 613.3 1520.0 640.0 1540.0 C666.7 1560.0 740.0 1590.0 760.0 1600.0" stroke-width="12.60"/><path d="M755.0 1425.0 C745.8 1418.8 717.5 1396.8 700.0 1388.0 C682.5 1379.2 662.5 1372.5 650.0 1372.0 C637.5 1371.5 629.2 1382.8 625.0 1385.0" stroke-width="12.60"/><ellipse cx="675" cy="1450" rx="42" ry="66" transform="rotate(-25 675 1450)" stroke-width="12.60"/><ellipse cx="678" cy="1452" rx="26" ry="46" transform="rotate(-25 678 1452)" stroke-width="16.80"/><polyline points="760,1400 880,1430 885,1395 1060,1300 1300,1330" stroke-width="12.60"/><polyline points="900,1400 1240,1385" stroke-width="12.60"/><polyline points="900,1400 905,1440" stroke-width="12.60"/><polyline points="760,1420 880,1445 905,1440 1010,1410" stroke-width="12.60"/><polyline points="745,1420 750,1590" stroke-width="12.60"/><polyline points="750,1590 900,1640 880,1700 900,1750" stroke-width="12.60"/><polyline points="760,1480 900,1560 1020,1540" stroke-width="12.60"/><polyline points="1010,1410 1015,1540 1050,1600" stroke-width="12.60"/><polyline points="1020,1440 1150,1500" stroke-width="12.60"/><polyline points="780,1570 1030,1545" stroke-width="12.60"/><polyline points="900,1640 1030,1580" stroke-width="12.60"/><polyline points="1010,1620 1040,1650" stroke-width="25.20"/><ellipse cx="1495" cy="1470" rx="30" ry="52" transform="rotate(25 1495 1470)" stroke-width="12.60"/><ellipse cx="1495" cy="1470" rx="18" ry="38" transform="rotate(25 1495 1470)" stroke-width="12.60"/><ellipse cx="1240" cy="1660" rx="45" ry="22" transform="rotate(0 1240 1660)" stroke-width="12.60"/><polyline points="1198,1670 1198,1710" stroke-width="12.60"/><polyline points="1282,1670 1282,1700" stroke-width="12.60"/><ellipse cx="1200" cy="1720" rx="15" ry="12" transform="rotate(0 1200 1720)" stroke-width="12.60"/></g>
<g transform="translate(1220,1620) scale(0.166667)"><path d="M420.0 300.0 C405.0 307.5 351.7 332.5 330.0 345.0 C308.3 357.5 297.5 364.2 290.0 375.0 C282.5 385.8 285.8 404.2 285.0 410.0" stroke-width="12.60"/><polyline points="285,410 325,570 355,625 390,662 412,655 600,478" stroke-width="12.60"/><polyline points="305,410 340,560 370,610 400,635 575,475" stroke-width="12.60"/><polyline points="680,320 540,490 400,640" stroke-width="21.00"/><polyline points="550,410 650,520 680,525" stroke-width="12.60"/><polyline points="540,320 670,250" stroke-width="12.60"/><polyline points="650,290 680,320" stroke-width="25.20"/><polyline points="640,330 660,480 680,490" stroke-width="12.60"/><polyline points="680,330 650,480" stroke-width="12.60"/><polygon points="670,480 690,465 710,470 710,500 690,510" stroke-width="12.60"/><polyline points="740,480 740,515 690,525" stroke-width="12.60"/><polyline points="740,515 1005,345 1005,365 760,510" stroke-width="12.60"/><ellipse cx="880" cy="345" rx="50" ry="25" transform="rotate(0 880 345)" stroke-width="12.60"/><polyline points="832,350 835,395" stroke-width="12.60"/><polyline points="928,350 925,380" stroke-width="12.60"/><ellipse cx="838" cy="400" rx="15" ry="12" transform="rotate(0 838 400)" stroke-width="12.60"/><polyline points="700,330 1275,660" stroke-width="12.60"/><polyline points="1335,680 1615,840" stroke-width="12.60"/><polyline points="1320,710 1600,875" stroke-width="12.60"/><path d="M1335.0 680.0 C1332.5 681.7 1322.5 685.0 1320.0 690.0 C1317.5 695.0 1320.0 706.7 1320.0 710.0" stroke-width="12.60"/><polyline points="1333,697 1450,764" stroke-width="21.00" stroke-dasharray="6 8"/><ellipse class="f" cx="1635" cy="865" rx="33" ry="40" transform="rotate(0 1635 865)" stroke-width="12.60"/><polyline points="1615,905 1615,1270" stroke-width="12.60"/><polyline points="893,518 910,870" stroke-width="12.60"/><ellipse cx="908" cy="885" rx="48" ry="25" transform="rotate(0 908 885)" stroke-width="12.60"/><ellipse cx="908" cy="890" rx="25" ry="12" transform="rotate(0 908 890)" stroke-width="12.60"/><polyline points="860,885 850,990" stroke-width="12.60"/><polyline points="958,885 968,990" stroke-width="12.60"/><ellipse cx="915" cy="1005" rx="75" ry="35" transform="rotate(0 915 1005)" stroke-width="12.60"/><path d="M840.0 1010.0 C840.8 1016.7 832.5 1040.8 845.0 1050.0 C857.5 1059.2 891.7 1065.0 915.0 1065.0 C938.3 1065.0 972.5 1059.2 985.0 1050.0 C997.5 1040.8 989.2 1016.7 990.0 1010.0" stroke-width="12.60"/><polyline points="470,1018 840,1018" stroke-width="21.00"/></g>
<g transform="translate(1440,1350) scale(0.166667)"><polyline points="570,375 570,745" stroke-width="12.60"/><ellipse cx="555" cy="860" rx="60" ry="92" transform="rotate(-20 555 860)" stroke-width="16.80"/><path d="M540.0 765.0 C550.0 760.0 581.7 735.8 600.0 735.0 C618.3 734.2 635.0 744.2 650.0 760.0 C665.0 775.8 682.5 808.3 690.0 830.0 C697.5 851.7 694.2 880.0 695.0 890.0" stroke-width="12.60"/><path d="M590.0 770.0 C596.7 775.0 620.0 783.3 630.0 800.0 C640.0 816.7 648.3 849.2 650.0 870.0 C651.7 890.8 641.7 915.8 640.0 925.0" stroke-width="12.60"/><polyline points="600,945 690,900" stroke-width="12.60"/><ellipse cx="560" cy="862" rx="27" ry="38" transform="rotate(-15 560 862)" stroke-width="16.80"/><ellipse cx="572" cy="868" rx="10" ry="18" transform="rotate(0 572 868)" stroke-width="12.60"/><polyline points="0,1185 540,872" stroke-width="12.60"/><polyline points="695,782 850,690" stroke-width="12.60"/><ellipse cx="872" cy="680" rx="27" ry="38" transform="rotate(-20 872 680)" stroke-width="21.00"/><ellipse class="f" cx="872" cy="680" rx="12" ry="18" transform="rotate(-20 872 680)" stroke-width="12.60"/><polyline points="860,643 930,598" stroke-width="12.60"/><polyline points="890,716 960,680" stroke-width="12.60"/><path d="M930.0 598.0 C935.8 600.0 958.0 601.3 965.0 610.0 C972.0 618.7 972.8 638.3 972.0 650.0 C971.2 661.7 962.0 675.0 960.0 680.0" stroke-width="12.60"/><polyline points="925,700 925,1065" stroke-width="12.60"/><polyline points="995,605 1170,515" stroke-width="12.60"/><ellipse cx="1195" cy="490" rx="55" ry="82" transform="rotate(-25 1195 490)" stroke-width="16.80"/><ellipse class="f" cx="1195" cy="495" rx="13" ry="18" transform="rotate(0 1195 495)" stroke-width="12.60"/><polyline points="1178,45 1178,415" stroke-width="12.60"/><polyline points="1270,450 1395,380" stroke-width="12.60"/><polyline points="1395,350 1560,260" stroke-width="12.60"/><polyline points="1415,395 1580,302" stroke-width="12.60"/><ellipse cx="1405" cy="372" rx="14" ry="25" transform="rotate(-25 1405 372)" stroke-width="12.60"/><ellipse cx="1440" cy="353" rx="12" ry="24" transform="rotate(-25 1440 353)" stroke-width="12.60"/><ellipse cx="1478" cy="332" rx="12" ry="24" transform="rotate(-25 1478 332)" stroke-width="12.60"/><ellipse cx="1516" cy="311" rx="12" ry="24" transform="rotate(-25 1516 311)" stroke-width="12.60"/><ellipse cx="1552" cy="291" rx="12" ry="24" transform="rotate(-25 1552 291)" stroke-width="12.60"/><ellipse cx="1592" cy="265" rx="44" ry="55" transform="rotate(-20 1592 265)" stroke-width="21.00"/><ellipse cx="1578" cy="275" rx="25" ry="35" transform="rotate(-20 1578 275)" stroke-width="12.60"/><polyline points="1580,320 1580,685" stroke-width="12.60"/><path d="M545.0 1555.0 C550.0 1556.2 568.0 1553.2 575.0 1562.0 C582.0 1570.8 587.5 1592.5 587.0 1608.0 C586.5 1623.5 579.0 1646.3 572.0 1655.0 C565.0 1663.7 549.5 1659.2 545.0 1660.0" stroke-width="12.60"/><polyline points="545,1555 545,1660" stroke-width="12.60"/><polyline points="448,1608 540,1608" stroke-width="67.20"/><polyline points="550,1660 550,2024" stroke-width="12.60"/><polyline points="0,1580 405,1598" stroke-width="12.60"/></g>
<g transform="translate(870,1640) scale(0.166667)"><polyline points="342,795 342,1170" stroke-width="16.80"/><ellipse cx="335" cy="1218" rx="48" ry="55" transform="rotate(-20 335 1218)" stroke-width="21.00"/><ellipse cx="322" cy="1225" rx="27" ry="38" transform="rotate(-20 322 1225)" stroke-width="12.60"/><polyline points="370,1185 520,1095" stroke-width="12.60"/><polyline points="395,1238 540,1148" stroke-width="12.60"/><ellipse cx="400" cy="1202" rx="12" ry="24" transform="rotate(-25 400 1202)" stroke-width="12.60"/><ellipse cx="435" cy="1182" rx="12" ry="24" transform="rotate(-25 435 1182)" stroke-width="12.60"/><ellipse cx="470" cy="1162" rx="12" ry="24" transform="rotate(-25 470 1162)" stroke-width="12.60"/><ellipse cx="503" cy="1143" rx="12" ry="24" transform="rotate(-25 503 1143)" stroke-width="12.60"/><ellipse cx="526" cy="1122" rx="13" ry="26" transform="rotate(-25 526 1122)" stroke-width="12.60"/><polyline points="565,1095 790,965" stroke-width="12.60"/><ellipse cx="808" cy="945" rx="55" ry="82" transform="rotate(-25 808 945)" stroke-width="16.80"/><ellipse class="f" cx="808" cy="950" rx="13" ry="18" transform="rotate(0 808 950)" stroke-width="12.60"/><polyline points="838,1020 838,1395" stroke-width="21.00"/><polyline points="878,912 1030,825" stroke-width="12.60"/><ellipse cx="1048" cy="805" rx="25" ry="36" transform="rotate(-20 1048 805)" stroke-width="21.00"/><ellipse class="f" cx="1048" cy="805" rx="11" ry="16" transform="rotate(-20 1048 805)" stroke-width="12.60"/><polyline points="1038,770 1105,732" stroke-width="12.60"/><polyline points="1065,840 1135,805" stroke-width="12.60"/><path d="M1105.0 732.0 C1110.8 734.2 1132.8 737.0 1140.0 745.0 C1147.2 753.0 1148.8 770.0 1148.0 780.0 C1147.2 790.0 1137.2 800.8 1135.0 805.0" stroke-width="12.60"/><polyline points="1070,385 1070,760" stroke-width="12.60"/><polyline points="1165,745 1380,620" stroke-width="12.60"/><ellipse cx="1415" cy="590" rx="60" ry="92" transform="rotate(-20 1415 590)" stroke-width="16.80"/><path d="M1395.0 495.0 C1404.2 490.8 1430.8 470.0 1450.0 470.0 C1469.2 470.0 1495.0 480.0 1510.0 495.0 C1525.0 510.0 1535.0 539.2 1540.0 560.0 C1545.0 580.8 1540.0 610.0 1540.0 620.0" stroke-width="12.60"/><path d="M1440.0 500.0 C1446.7 505.0 1470.0 513.3 1480.0 530.0 C1490.0 546.7 1498.3 579.2 1500.0 600.0 C1501.7 620.8 1491.7 645.8 1490.0 655.0" stroke-width="12.60"/><polyline points="1460,675 1540,635" stroke-width="12.60"/><ellipse cx="1420" cy="595" rx="27" ry="38" transform="rotate(-15 1420 595)" stroke-width="16.80"/><ellipse cx="1432" cy="600" rx="10" ry="18" transform="rotate(0 1432 600)" stroke-width="12.60"/><polyline points="1478,660 1478,1035" stroke-width="16.80"/><polyline points="1570,508 1740,410" stroke-width="12.60"/></g>
<g transform="translate(1150,1490) scale(0.063171)"><polyline points="1180,-420 1180,550" stroke-width="44.32"/><polyline points="260,420 370,300 480,300 870,530" stroke-width="33.24"/><polyline points="260,570 700,830" stroke-width="33.24"/><polyline points="260,420 245,500 260,570" stroke-width="33.24"/><polygon points="225,345 290,340 300,410 235,420" stroke-width="33.24"/><path d="M880.0 535.0 C866.7 547.5 821.7 579.2 800.0 610.0 C778.3 640.8 760.0 675.0 750.0 720.0 C740.0 765.0 741.7 853.3 740.0 880.0" stroke-width="33.24"/><polyline points="880,535 980,530 1010,570" stroke-width="33.24"/><polygon class="f" points="840,850 800,780 850,660 960,590 1010,600 900,700 860,800" stroke-width="33.24"/><polyline points="1010,570 1100,530 1240,570 1400,720 1415,760 1400,1020 1350,1120 1000,1340 860,1350 770,1230 770,940 790,800" stroke-width="33.24"/><polyline points="960,950 1350,740" stroke-width="33.24"/><polyline points="860,880 960,950 990,1040 990,1310" stroke-width="33.24"/><path d="M800.0 950.0 C811.7 948.3 846.7 926.7 870.0 940.0 C893.3 953.3 925.0 995.0 940.0 1030.0 C955.0 1065.0 956.7 1130.0 960.0 1150.0" stroke-width="33.24"/><polyline points="960,1150 830,1230" stroke-width="33.24"/><polyline points="850,1270 950,1220 940,1290" stroke-width="33.24"/><polygon points="1020,1100 1090,1050 1150,1090 1150,1180 1110,1195 1025,1190" stroke-width="33.24"/><polygon points="1045,1125 1105,1125 1105,1170 1045,1170" stroke-width="33.24"/><polyline points="980,690 1080,610" stroke-width="33.24"/><polyline points="920,800 1000,740 1090,760" stroke-width="33.24"/><polyline points="860,1345 1000,1335" stroke-width="55.41"/></g>

<rect x="306.7" y="1171.7" width="276.6" height="96" stroke-width="2.2"/>
<line x1="306.7" y1="1220" x2="583.3" y2="1220" stroke-width="2.2"/>
<line x1="406.7" y1="1171.7" x2="406.7" y2="1267.7" stroke-width="2.2"/>
<rect x="1241.7" y="1267.7" width="277.6" height="96" stroke-width="2.2"/>
<line x1="1241.7" y1="1315.7" x2="1519.3" y2="1315.7" stroke-width="2.2"/>
<line x1="1341.7" y1="1267.7" x2="1341.7" y2="1363.7" stroke-width="2.2"/>
<circle cx="921" cy="1518.3" r="22" stroke-width="2.1"/>
<circle cx="1301.7" cy="1557.3" r="22.3" stroke-width="2.1"/>
<circle cx="735.3" cy="1755" r="22.7" stroke-width="2.1"/>
<circle cx="490.7" cy="942" r="22" stroke-width="2.1"/>
<g transform="translate(930,1340) scale(0.166667)"><path d="M664.0 170.0 C640.7 179.0 568.3 195.3 524.0 224.0 C479.7 252.7 434.2 299.0 398.0 342.0 C361.8 385.0 329.5 436.0 307.0 482.0 C284.5 528.0 270.7 577.0 263.0 618.0 C255.3 659.0 256.5 690.7 261.0 728.0 C265.5 765.3 285.2 823.0 290.0 842.0" stroke-width="74" stroke-dasharray="18 18" style="stroke-linecap:butt"/></g>
</g>
<g>
<text class="t" x="1615.0 1631.0 1647.0 1663.0 1679.0" y="78.0" font-size="26.0">F2710</text>
<text class="t" x="455.0 473.0 491.0 509.0 527.0" y="668.3" font-size="28.8">92173</text>
<text class="t" x="845.6 863.6 881.6 899.6 917.6 935.6 953.6 971.6 989.6 1007.6 1025.6 1043.6 1061.6 1079.6 1097.6 1115.6 1133.6 1151.6 1169.6" y="648.3" font-size="28.8">Ref.Front Fender(s)</text>
<text class="t" x="737.3 755.3 773.3 791.3 809.3 827.3" y="886.0" font-size="28.8">92022A</text>
<text class="t" x="698.0 716.0 734.0 752.0 770.0" y="1031.7" font-size="28.8">92152</text>
<text class="t" x="792.3 810.3 828.3 846.3 864.3" y="1090.0" font-size="28.8">92172</text>
<text class="t" x="344.6 362.6" y="1206.0" font-size="28.8">LH</text>
<text class="t" x="344.0 362.0" y="1254.0" font-size="28.8">RH</text>
<text class="t" x="428.3 446.3 464.3 482.3 500.3 518.3 536.3" y="1206.0" font-size="28.8">(14092)</text>
<text class="t" x="428.3 446.3 464.3 482.3 500.3 518.3 536.3 554.3" y="1254.0" font-size="28.8">(14092A)</text>
<text class="t" x="395.6 413.6 431.6 449.6 467.6 485.6 503.6" y="1310.0" font-size="28.8">14092/A</text>
<text class="t" x="560.6 578.6 596.6 614.6 632.6" y="1342.7" font-size="28.8">92143</text>
<text class="t" x="130.0 148.0 166.0 184.0 202.0" y="1566.0" font-size="28.8">92015</text>
<text class="t" x="114.6 132.6 150.6 168.6 186.6 204.6 222.6 240.6 258.6 276.6 294.6 312.6 330.6 348.6 366.6 384.6 402.6 420.6 438.6" y="1654.0" font-size="28.8">Ref.Front Fender(s)</text>
<text class="t" x="453.0 471.0 489.0 507.0 525.0" y="1835.0" font-size="28.8">92015</text>
<text class="t" x="686.6 704.6 722.6 740.6 758.6" y="1347.3" font-size="28.8">92172</text>
<text class="t" x="986.6 1004.6 1022.6 1040.6 1058.6" y="1299.0" font-size="28.8">23007</text>
<text class="t" x="886.6 904.6 922.6 940.6 958.6" y="1360.7" font-size="28.8">23020</text>
<text class="t" x="1112.3 1130.3 1148.3 1166.3 1184.3" y="1363.3" font-size="28.8">92210</text>
<text class="t" x="1190.0 1208.0 1226.0 1244.0 1262.0" y="1456.0" font-size="28.8">92069</text>
<text class="t" x="920.8" y="1529.0" font-size="28.8">A</text>
<text class="t" x="1301.5" y="1568.0" font-size="28.8">A</text>
<text class="t" x="735.3" y="1766.0" font-size="28.8">B</text>
<text class="t" x="490.7" y="952.5" font-size="28.8">B</text>
<text class="t" x="977.3 995.3 1013.3 1031.3 1049.3" y="1637.3" font-size="28.8">92210</text>
<text class="t" x="1097.3 1115.3 1133.3 1151.3 1169.3" y="1650.7" font-size="28.8">92081</text>
<text class="t" x="1013.0 1031.0 1049.0 1067.0 1085.0" y="1696.0" font-size="28.8">92027</text>
<text class="t" x="912.3 930.3 948.3" y="1764.5" font-size="28.8">132</text>
<text class="t" x="1080.8 1098.8 1116.8 1134.8 1152.8" y="1839.5" font-size="28.8">92075</text>
<text class="t" x="1199.6 1217.6 1235.6 1253.6 1271.6 1289.6" y="1800.0" font-size="28.8">92015A</text>
<text class="t" x="1279.6 1297.6" y="1303.3" font-size="28.8">LH</text>
<text class="t" x="1279.0 1297.0" y="1351.0" font-size="28.8">RH</text>
<text class="t" x="1362.6 1380.6 1398.6 1416.6 1434.6 1452.6 1470.6 1488.6" y="1303.3" font-size="28.8">(14092B)</text>
<text class="t" x="1362.6 1380.6 1398.6 1416.6 1434.6 1452.6 1470.6 1488.6" y="1351.0" font-size="28.8">(14092C)</text>
<text class="t" x="1601.3 1619.3 1637.3 1655.3 1673.3" y="1351.0" font-size="28.8">92022</text>
<text class="t" x="1499.6 1517.6 1535.6 1553.6 1571.6" y="1405.0" font-size="28.8">92075</text>
<text class="t" x="1302.3 1320.3 1338.3 1356.3 1374.3 1392.3 1410.3 1428.3" y="1417.7" font-size="28.8">14092B/C</text>
<text class="t" x="1689.0 1707.0 1725.0" y="1491.0" font-size="28.8">132</text>
<text class="t" x="1559.0 1577.0 1595.0 1613.0 1631.0" y="1554.0" font-size="28.8">92027</text>
<text class="t" x="1488.0 1506.0 1524.0 1542.0 1560.0 1578.0" y="1712.7" font-size="28.8">92172A</text>
<text class="t" x="1472.3 1490.3 1508.3" y="1857.5" font-size="28.8">224</text>
<text class="t" x="974.8 992.8 1010.8 1028.8 1046.8" y="1898.5" font-size="28.8">92022</text>
<text transform="translate(164.5,172) skewY(29.7) scale(0.5,1)" x="0.0 43.4 86.8 130.2 173.6" y="0" font-family="Liberation Sans,sans-serif" font-size="42" fill="#000">FRONT</text>
</g>
</svg>
</body></html>
